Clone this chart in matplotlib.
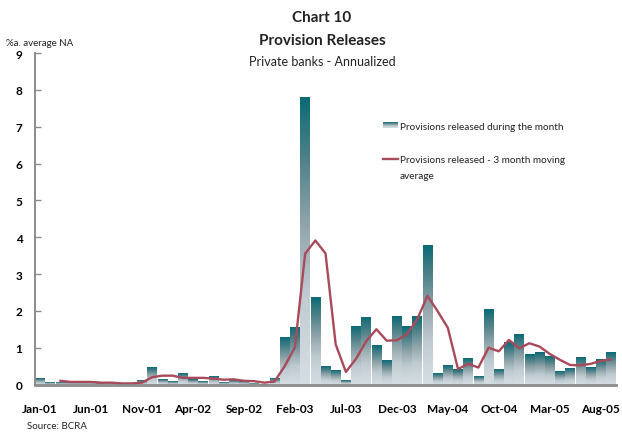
import numpy as np
import matplotlib
matplotlib.use("Agg")
import matplotlib.pyplot as plt
from matplotlib.colors import LinearSegmentedColormap

plt.rcParams['font.family'] = ['Lato', 'DejaVu Sans']

# monthly provisions released, Jan-01 .. Sep-05 (% annualized of avg net assets)
released = [0.17, 0.07, 0.06, 0.07, 0.07, 0.06, 0.03, 0.06, 0.01, 0.02,
            0.11, 0.47, 0.15, 0.10, 0.30, 0.15, 0.09, 0.23, 0.08, 0.12,
            0.10, 0.04, 0.02, 0.18, 1.30, 1.56, 7.80, 2.38, 0.51, 0.39,
            0.12, 1.59, 1.83, 1.07, 0.66, 1.86, 1.59, 1.86, 3.79, 0.31,
            0.53, 0.42, 0.72, 0.23, 2.05, 0.42, 1.15, 1.37, 0.83, 0.88,
            0.77, 0.37, 0.45, 0.75, 0.48, 0.69, 0.88]

# 3 month moving average, starts at Mar-01
moving_avg = [0.10, 0.07, 0.07, 0.07, 0.05, 0.05, 0.03, 0.03, 0.05,
              0.20, 0.24, 0.24, 0.18, 0.18, 0.18, 0.16, 0.13, 0.14, 0.10,
              0.09, 0.05, 0.08, 0.50, 1.01, 3.55, 3.91, 3.56, 1.09, 0.34,
              0.70, 1.18, 1.50, 1.19, 1.20, 1.37, 1.77, 2.41, 1.99, 1.54,
              0.42, 0.56, 0.46, 1.00, 0.90, 1.21, 0.98, 1.12, 1.03, 0.83,
              0.67, 0.53, 0.52, 0.56, 0.64, 0.68]

tick_labels = ['Jan-01', 'Jun-01', 'Nov-01', 'Apr-02', 'Sep-02', 'Feb-03',
               'Jul-03', 'Dec-03', 'May-04', 'Oct-04', 'Mar-05', 'Aug-05']

teal = '#0b6b76'
red = '#a84a5a'
grey = '#8c8c8c'
grad = LinearSegmentedColormap.from_list(
    'bar', ['#d4dde2', '#bfcbd1', '#8fa4aa', '#4f8189', teal])
ramp = np.linspace(0, 1, 200).reshape(-1, 1) ** 1.2

fig = plt.figure(figsize=(6.22, 4.35), dpi=100)
ax = fig.add_axes([35 / 622, 1 - 385.5 / 435, 581 / 622, (385.5 - 54) / 435])

x = np.arange(len(released))
w = 0.94
for xi, h in zip(x, released):
    ax.imshow(ramp, cmap=grad, origin='lower', aspect='auto',
              extent=(xi - w / 2, xi + w / 2, 0, h), zorder=2)

ax.plot(x[2:], moving_avg, color=red, lw=1.7, zorder=3)

ax.set_xlim(-0.5, len(released) - 0.5)
ax.set_ylim(0, 9)
ax.set_yticks(range(10))
ax.set_yticklabels([str(i) for i in range(10)], fontweight='bold', fontsize=8.5)
ax.set_xticks(np.arange(0, 56, 5))
ax.set_xticklabels(tick_labels, fontweight='bold', fontsize=8.5)
ax.tick_params(axis='y', direction='in', length=4, color=grey, width=1, pad=9)
ax.tick_params(axis='x', length=0, pad=13)
for s in ['top', 'right']:
    ax.spines[s].set_visible(False)
ax.spines['left'].set_color(grey)
ax.spines['left'].set_linewidth(1.4)
ax.spines['bottom'].set_color(grey)
ax.spines['bottom'].set_linewidth(2)
ax.spines['bottom'].set_zorder(4)

# titles
fig.text(322 / 622, 1 - 18 / 435, 'Chart 10', ha='center', va='center',
         fontsize=11, fontweight='bold', color='#222222')
fig.text(322 / 622, 1 - 41 / 435, 'Provision Releases', ha='center', va='center',
         fontsize=11, fontweight='bold', color='#222222')
fig.text(322 / 622, 1 - 62 / 435, 'Private banks - Annualized', ha='center',
         va='center', fontsize=9, color='#222222')
fig.text(6 / 622, 1 - 44 / 435, '%a. average NA', ha='left', va='center',
         fontsize=7, color='#222222')
fig.text(27 / 622, 1 - 427 / 435, 'Source: BCRA', ha='left', va='center',
         fontsize=7, color='#222222')

# legend
lx = fig.add_axes([383 / 622, 1 - 129 / 435, 15 / 622, 6 / 435])
lx.imshow(ramp, cmap=grad, origin='lower', aspect='auto')
lx.axis('off')
fig.text(400 / 622, 1 - 127 / 435, 'Provisions released during the month',
         ha='left', va='center', fontsize=7.2, color='#222222')
fig.add_artist(plt.Line2D([383 / 622, 398 / 622], [1 - 160 / 435, 1 - 160 / 435],
                          color=red, lw=1.7))
fig.text(400 / 622, 1 - 161 / 435, 'Provisions released - 3 month moving',
         ha='left', va='center', fontsize=7.2, color='#222222')
fig.text(400 / 622, 1 - 177 / 435, 'average',
         ha='left', va='center', fontsize=7.2, color='#222222')

fig.savefig('out.png', dpi=100)
